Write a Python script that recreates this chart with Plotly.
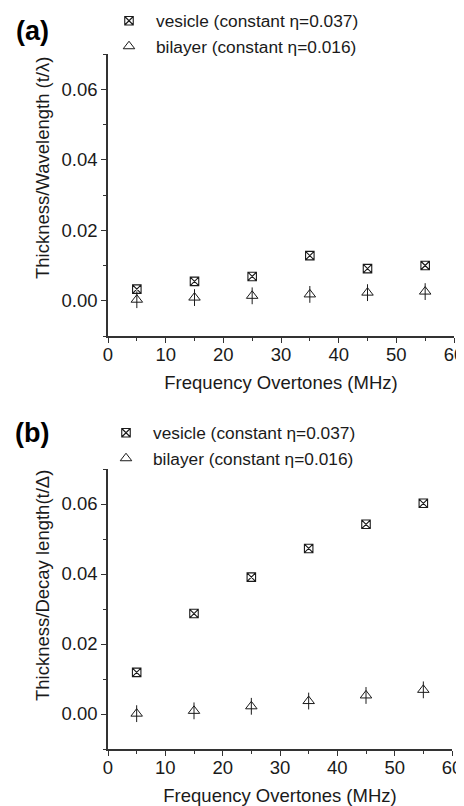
import plotly.graph_objects as go

freq = [5, 15, 25, 35, 45, 55]
vesicle_a = [0.0033, 0.0055, 0.0069, 0.0128, 0.0091, 0.0100]
bilayer_a = [0.0003, 0.0009, 0.0014, 0.0018, 0.0023, 0.0026]
vesicle_b = [0.0119, 0.0287, 0.0391, 0.0473, 0.0542, 0.0602]
bilayer_b = [0.0001, 0.0009, 0.0022, 0.0037, 0.0053, 0.0069]

name_v = "vesicle (constant \u03b7=0.037)"
name_b = "bilayer (constant \u03b7=0.016)"
x_title = "Frequency Overtones (MHz)"
y_title_a = "Thickness/Wavelength (t/\u03bb)"
y_title_b = "Thickness/Decay length(t/\u0394)"

W, H = 464, 806
OFF = 8  # page body margin
FONT = "Liberation Sans, Arial, sans-serif"
INK = "#1a1a1a"

def px(v):
    return (v - OFF) / W

def py(v):
    return 1 - (v - OFF) / H

fig = go.Figure()

def add_panel(xa, ya, ves, bil, legend):
    fig.add_trace(go.Scatter(
        x=freq, y=ves, mode="markers", name=name_v, xaxis=xa, yaxis=ya,
        legend=legend,
        marker=dict(symbol="square-x-open", size=8.5, color=INK, line=dict(width=1.1, color=INK)),
    ))
    fig.add_trace(go.Scatter(
        x=freq, y=bil, mode="markers", name=name_b, xaxis=xa, yaxis=ya,
        legend=legend,
        marker=dict(symbol="triangle-up-open", size=10, color=INK, line=dict(width=1, color=INK)),
    ))
    fig.add_trace(go.Scatter(
        x=freq, y=bil, mode="markers", name=name_b, xaxis=xa, yaxis=ya,
        showlegend=False, hoverinfo="skip",
        marker=dict(symbol="line-ns-open", size=12, color=INK, line=dict(width=1, color=INK)),
    ))

add_panel("x", "y", vesicle_a, bilayer_a, "legend")
add_panel("x2", "y2", vesicle_b, bilayer_b, "legend2")

axis_common = dict(
    showline=True, linecolor="#333333", linewidth=1.5,
    ticks="outside", ticklen=5, tickwidth=1.2, tickcolor="#333333",
    showgrid=False, zeroline=False, mirror=False, automargin=False,
    tickfont=dict(family=FONT, size=18.5, color=INK),
)
xaxis_common = dict(
    axis_common, range=[0, 60], dtick=10, tick0=0, ticklabelstandoff=-4,
    minor=dict(ticks="outside", ticklen=3, dtick=5, tickcolor="#333333", tickwidth=1),
    title=dict(text=x_title, font=dict(family=FONT, size=18.5, color=INK), standoff=12),
)
yaxis_common = dict(
    axis_common, range=[-0.01, 0.07], dtick=0.02, tick0=0, tickformat=".2f",
    minor=dict(ticks="outside", ticklen=3, dtick=0.01, tickcolor="#333333", tickwidth=1),
)

fig.update_layout(
    width=W, height=H,
    margin=dict(l=0, r=0, t=0, b=0, autoexpand=False),
    paper_bgcolor="white", plot_bgcolor="white",
    xaxis=dict(xaxis_common, domain=[px(108), px(454)], anchor="y"),
    yaxis=dict(yaxis_common, domain=[py(336), py(54)], anchor="x"),
    xaxis2=dict(xaxis_common, domain=[px(108), px(452)], anchor="y2"),
    yaxis2=dict(yaxis_common, domain=[py(749), py(469)], anchor="x2"),
    legend=dict(
        x=px(102), y=py(3), xanchor="left", yanchor="top",
        font=dict(family=FONT, size=17.3, color=INK), itemwidth=44,
        bgcolor="rgba(0,0,0,0)", tracegroupgap=0,
    ),
    legend2=dict(
        x=px(99), y=py(415), xanchor="left", yanchor="top",
        font=dict(family=FONT, size=17.3, color=INK), itemwidth=44,
        bgcolor="rgba(0,0,0,0)", tracegroupgap=0,
    ),
    showlegend=True,
    annotations=[
        dict(text="<b>(a)</b>", x=px(32), y=py(31), xref="paper", yref="paper",
             xanchor="center", yanchor="middle",
             showarrow=False, font=dict(family=FONT, size=27, color="black")),
        dict(text="<b>(b)</b>", x=px(32), y=py(433), xref="paper", yref="paper",
             xanchor="center", yanchor="middle",
             showarrow=False, font=dict(family=FONT, size=27, color="black")),
        dict(text=y_title_a, x=px(42), y=py(168), xref="paper", yref="paper",
             xanchor="center", yanchor="middle",
             textangle=-90, showarrow=False, font=dict(family=FONT, size=18.5, color=INK)),
        dict(text=y_title_b, x=px(42), y=py(586), xref="paper", yref="paper",
             xanchor="center", yanchor="middle",
             textangle=-90, showarrow=False, font=dict(family=FONT, size=18.5, color=INK)),
    ],
)

fig.write_html("out.html")
